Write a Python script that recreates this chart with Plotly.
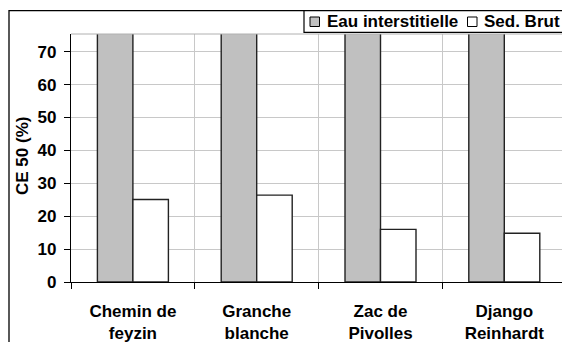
import plotly.graph_objects as go

categories = ["Chemin de<br>feyzin", "Granche<br>blanche", "Zac de<br>Pivolles", "Django<br>Reinhardt"]
eau_interstitielle = [100, 100, 100, 100]
sed_brut = [25.1, 26.4, 16.0, 14.8]
series_names = ["Eau interstitielle", "Sed. Brut"]
y_ticks = [0, 10, 20, 30, 40, 50, 60, 70]

W, H = 562, 342
L, R, T, B = 71, 0, 34, 60
PW, PH = W - L - R, H - T - B

def px(x):
    return (x - L) / PW

def py(y):
    return (H - B - y) / PH

FONT = dict(family="Liberation Sans, Arial, sans-serif", size=17, color="black", weight="bold")

fig = go.Figure()
fig.add_trace(go.Bar(x=categories, y=eau_interstitielle, name=series_names[0],
                     marker=dict(color="#C0C0C0", line=dict(color="#222", width=1.4)),
                     showlegend=False))
fig.add_trace(go.Bar(x=categories, y=sed_brut, name=series_names[1],
                     marker=dict(color="white", line=dict(color="#222", width=1.4)),
                     showlegend=False))

shapes = []
# outer chart border
shapes.append(dict(type="rect", xref="paper", yref="paper",
                   x0=px(9), x1=px(600), y0=py(400), y1=py(10.7),
                   line=dict(color="black", width=1.3), fillcolor="rgba(0,0,0,0)", layer="below"))
# plot area top border
shapes.append(dict(type="line", xref="paper", yref="paper", x0=0, x1=1, y0=1, y1=1,
                   line=dict(color="#b0b0b0", width=1)))
# legend box
shapes.append(dict(type="rect", xref="paper", yref="paper",
                   x0=px(304), x1=px(600), y0=py(32.3), y1=py(10.7),
                   line=dict(color="black", width=1.2), fillcolor="white"))
# legend markers
shapes.append(dict(type="rect", xref="paper", yref="paper",
                   x0=px(310), x1=px(319.5), y0=py(26.5), y1=py(17),
                   line=dict(color="black", width=1), fillcolor="#C0C0C0"))
shapes.append(dict(type="rect", xref="paper", yref="paper",
                   x0=px(467.5), x1=px(477), y0=py(26.5), y1=py(17),
                   line=dict(color="black", width=1), fillcolor="white"))

annotations = [
    dict(text="<b>" + series_names[0] + "</b>", xref="paper", yref="paper", x=px(325), y=py(21.5),
         xanchor="left", yanchor="middle", showarrow=False, font=FONT),
    dict(text="<b>" + series_names[1] + "</b>", xref="paper", yref="paper", x=px(482), y=py(21.5),
         xanchor="left", yanchor="middle", showarrow=False, font=FONT),
    dict(text="<b>CE 50 (%)</b>", xref="paper", yref="paper", x=px(22), y=py(156),
         xanchor="center", yanchor="middle", textangle=-90, showarrow=False, font=FONT),
]

fig.update_layout(
    width=W, height=H,
    margin=dict(l=L, r=R, t=T, b=B),
    paper_bgcolor="white", plot_bgcolor="white",
    barmode="group", bargap=0.4265, bargroupgap=0,
    font=FONT,
    shapes=shapes, annotations=annotations,
)
fig.update_xaxes(
    range=[-0.5, -0.5 + PW / 123.8],
    tickson="boundaries", ticks="outside", ticklen=6, tickcolor="black", tickwidth=1,
    showgrid=True, gridcolor="#c8c8c8", gridwidth=1,
    showline=True, linecolor="black", linewidth=1.3,
    tickfont=FONT, ticklabelstandoff=13,
)
fig.update_yaxes(
    range=[0, 75.4], tickvals=y_ticks, ticks="outside", ticklen=6, tickcolor="black",
    showgrid=True, gridcolor="#c8c8c8", gridwidth=1,
    showline=True, linecolor="black", linewidth=1.3,
    tickfont=FONT, zeroline=False, ticklabelstandoff=4,
)

fig.write_html("out.html")
